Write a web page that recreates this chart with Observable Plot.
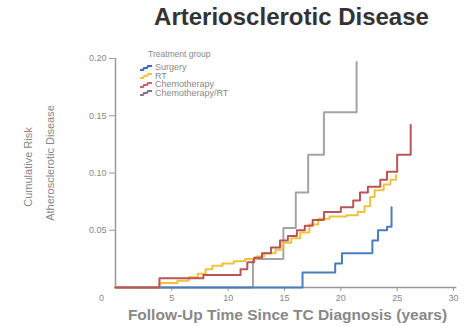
<!DOCTYPE html>
<html><head><meta charset="utf-8">
<script src="https://cdn.jsdelivr.net/npm/d3@7"></script>
<script src="https://cdn.jsdelivr.net/npm/@observablehq/plot@0.6"></script>
<style>
body{margin:0;background:#fff;font-family:"Liberation Sans",Arial,sans-serif}
#wrap{position:relative;width:471px;height:326px}
#legend{position:absolute;left:139px;top:49px;color:#888;font-size:8.5px}
#legend .ttl{margin-left:9px;height:14px;line-height:10px}
#legend .it{height:8.5px;line-height:8.5px;display:flex;align-items:center;font-size:9px}
#legend svg{margin-right:2px}
</style></head><body><div id="wrap"></div>
<script>
const title = "Arteriosclerotic Disease";
const xLabel = "Follow-Up Time Since TC Diagnosis (years)";
const yLabel1 = "Cumulative Risk";
const yLabel2 = "Atherosclerotic Disease";
const legendTitle = "Treatment group";
const groups = ["Surgery", "RT", "Chemotherapy", "Chemotherapy/RT"];
const lineColors = ["#4a7cc0", "#f0c23c", "#b8555a", "#a4a4a4"];
const legendColors = ["#3d6fb8", "#f2c640", "#c8646c", "#8c7288"];
const xTicks = [5, 10, 15, 20, 25, 30];
const yTicks = [0.05, 0.10, 0.15, 0.20];
const origin = [{t: 0, r: 0, label: "0"}];

// [years, cumulative risk]
const surgery = [[0,0],[16.6,0.013],[19.5,0.021],[20.1,0.030],[22.8,0.041],[23.3,0.050],[24.1,0.053],[24.5,0.070]];
const rt = [[0,0],[3.9,0.004],[5.5,0.006],[6.5,0.009],[7.3,0.012],[8.0,0.016],[8.6,0.019],[9.5,0.021],[10.5,0.023],[11.5,0.025],[12.5,0.027],[13.2,0.030],[14.2,0.033],[14.8,0.039],[15.6,0.043],[16.4,0.048],[17.2,0.055],[18.0,0.060],[19.0,0.062],[20.5,0.063],[21.5,0.066],[22.1,0.071],[22.6,0.079],[23.0,0.085],[23.8,0.090],[24.4,0.094],[24.9,0.098]];
const chemo = [[0,0],[3.9,0.008],[7.8,0.011],[11.1,0.016],[11.7,0.022],[12.3,0.026],[13.0,0.030],[13.8,0.035],[14.6,0.041],[15.3,0.045],[16.1,0.050],[16.8,0.054],[17.5,0.059],[18.5,0.066],[20.0,0.070],[21.1,0.076],[21.7,0.083],[22.4,0.088],[23.5,0.094],[24.1,0.101],[25.0,0.116],[26.2,0.142]];
const chemoRT = [[0,0],[12.2,0.025],[14.9,0.052],[16.0,0.083],[17.1,0.116],[18.5,0.153],[21.4,0.197]];

const seriesList = [["Chemotherapy/RT", chemoRT], ["Surgery", surgery], ["RT", rt], ["Chemotherapy", chemo]];
const rows = seriesList.flatMap(([g, arr]) => arr.map(([t, r]) => ({group: g, t, r})));

const grey = "#999";
const plot = Plot.plot({
  width: 471, height: 326,
  marginTop: 58, marginLeft: 115, marginRight: 18, marginBottom: 39,
  x: {domain: [0, 30]},
  y: {domain: [0, 0.2]},
  color: {domain: groups, range: lineColors},
  style: {fontFamily: "'Liberation Sans', Arial, sans-serif", fontSize: "9px", color: "#888", background: "white", overflow: "visible"},
  marks: [
    Plot.ruleY([0], {x1: 0, x2: 30.3, stroke: grey, strokeWidth: 1.5}),
    Plot.ruleX([0], {y1: 0, y2: 0.2, stroke: grey, strokeWidth: 1.5}),
    Plot.axisX({ticks: xTicks, tickSize: 4, tickPadding: 3, label: null, stroke: grey, fill: "#888"}),
    Plot.axisY({ticks: yTicks, tickSize: 6, tickPadding: 3, tickFormat: ".2f", label: null, stroke: grey, fill: "#888"}),
    Plot.text(origin, {x: "t", y: "r", text: "label", dx: -14, dy: 11, fill: "#888"}),
    Plot.line(rows, {x: "t", y: "r", z: "group", stroke: "group", curve: "step-after", strokeWidth: 2}),
    Plot.text([title], {text: d => d, frameAnchor: "top", dx: 7, dy: -41, lineAnchor: "middle", fontSize: 24, fontWeight: "bold", fill: "#333"}),
    Plot.text([xLabel], {text: d => d, frameAnchor: "bottom", dx: 3, dy: 28, lineAnchor: "middle", fontSize: 15.5, fontWeight: "bold", fill: "#888"}),
    Plot.text([yLabel1], {text: d => d, frameAnchor: "left", textAnchor: "middle", dx: -87, dy: -6, rotate: -90, lineAnchor: "middle", fontSize: 11, fill: "#888"}),
    Plot.text([yLabel2], {text: d => d, frameAnchor: "left", textAnchor: "middle", dx: -65, dy: -10, rotate: -90, lineAnchor: "middle", fontSize: 11, fill: "#888"})
  ]
});
const wrap = document.getElementById("wrap");
wrap.appendChild(plot);

const leg = document.createElement("div");
leg.id = "legend";
let html = `<div class="ttl">${legendTitle}</div>`;
groups.forEach((g, i) => {
  html += `<div class="it"><svg width="14" height="7"><polyline points="1,6 4,6 5,4 8,4 9,2 13,2" fill="none" stroke="${legendColors[i]}" stroke-width="2"/></svg>${g}</div>`;
});
leg.innerHTML = html;
wrap.appendChild(leg);
</script></body></html>
